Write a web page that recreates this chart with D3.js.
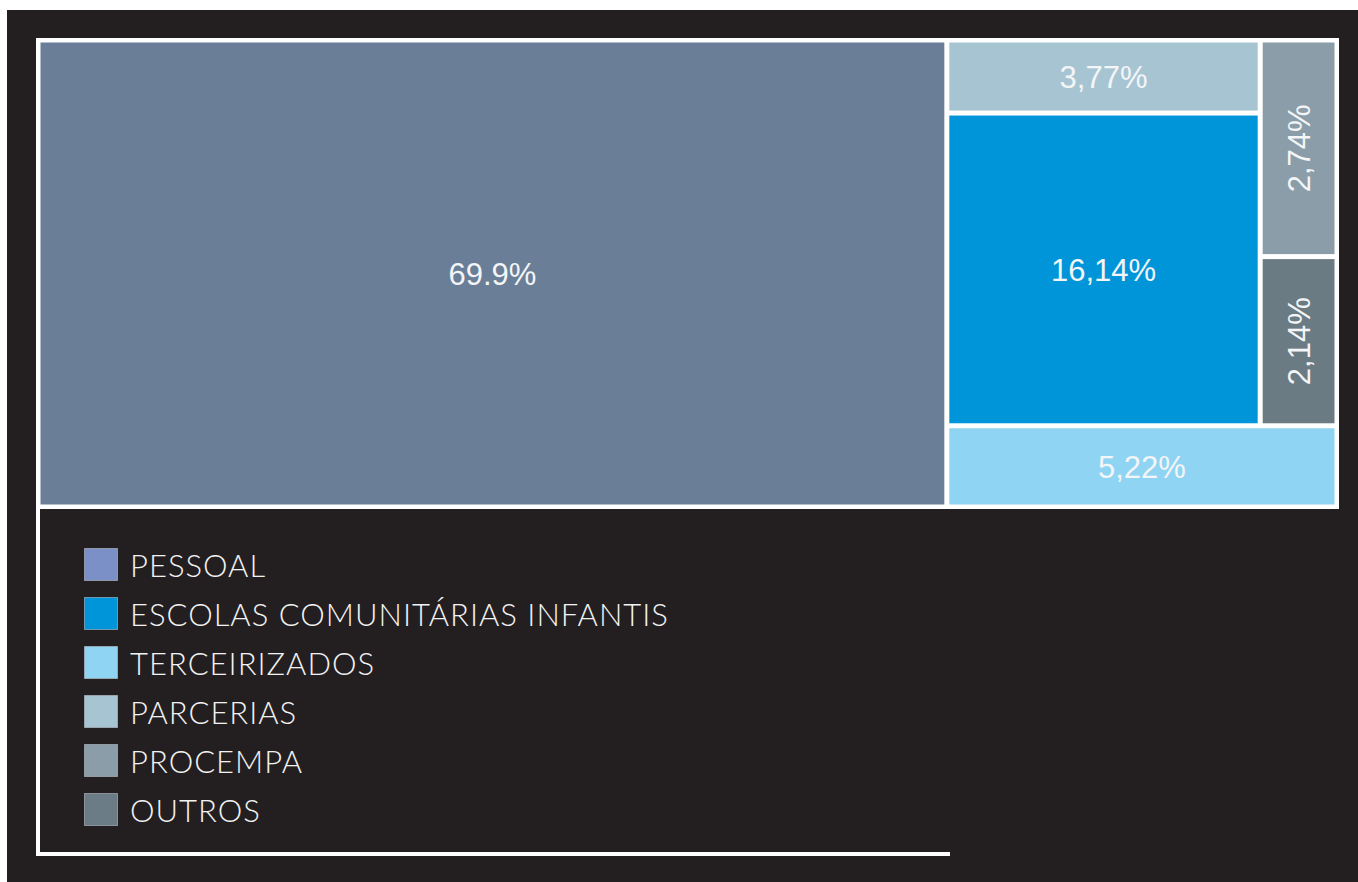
<!DOCTYPE html>
<meta charset="utf-8">
<style>
  body { margin: 0; background: #fff; }
</style>

<!-- Load d3.js -->
<script src="https://d3js.org/d3.v7.min.js"></script>

<div id="my_dataviz"></div>

<script>

// data
var categories = ["PESSOAL", "ESCOLAS COMUNITÁRIAS INFANTIS", "TERCEIRIZADOS", "PARCERIAS", "PROCEMPA", "OUTROS"];
var values = [69.9, 16.14, 5.22, 3.77, 2.74, 2.14];
var valueLabels = ["69.9%", "16,14%", "5,22%", "3,77%", "2,74%", "2,14%"];
var cellColors = ["#6a7e97", "#0095d9", "#8fd4f2", "#a7c4d2", "#8a9da8", "#6b7b84"];
var legendColors = ["#7a90c6", "#0095d9", "#8fd4f2", "#a7c4d2", "#8a9da8", "#6c7c87"];

// how the blocks are nested (indexes into the arrays above)
var nesting = [0, [[[3, 1], [4, 5]], 2]];

var W = 1358, H = 882;

var svg = d3.select("#my_dataviz")
  .append("svg")
    .attr("width", W)
    .attr("height", H);

// dark page
svg.append("rect")
  .attr("x", 7).attr("y", 10)
  .attr("width", W - 7).attr("height", H - 10)
  .attr("fill", "#231f20");

// white frame / treemap background
var frame = {x: 36, y: 38, w: 1303, h: 471};
svg.append("rect")
  .attr("x", frame.x).attr("y", frame.y)
  .attr("width", frame.w).attr("height", frame.h)
  .attr("fill", "#ffffff");
// left edge and bottom edge of the legend box
svg.append("rect")
  .attr("x", frame.x).attr("y", frame.y)
  .attr("width", 4).attr("height", 818)
  .attr("fill", "#ffffff");
svg.append("rect")
  .attr("x", frame.x).attr("y", 852)
  .attr("width", 914).attr("height", 4)
  .attr("fill", "#ffffff");

// build the hierarchy
function toNode(n) {
  if (Array.isArray(n)) return {children: n.map(toNode)};
  return {i: n, name: categories[n], value: values[n]};
}
var root = d3.hierarchy(toNode(nesting))
  .sum(function(d) { return d.children ? 0 : d.value; });

d3.treemap()
  .tile(d3.treemapSliceDice)
  .size([frame.w, frame.h])
  .paddingInner(5)
  .paddingOuter(function(d) { return d.depth === 0 ? 4.5 : 0; })
  (root);

var color = d3.scaleOrdinal().domain(categories).range(cellColors);

var g = svg.append("g")
  .attr("transform", "translate(" + frame.x + "," + frame.y + ")");

var leaves = g.selectAll("g.cell")
  .data(root.leaves())
  .enter()
  .append("g")
    .attr("class", "cell");

leaves.append("rect")
  .attr("x", function(d) { return d.x0; })
  .attr("y", function(d) { return d.y0; })
  .attr("width", function(d) { return d.x1 - d.x0; })
  .attr("height", function(d) { return d.y1 - d.y0; })
  .attr("fill", function(d) { return color(d.data.name); });

leaves.append("text")
  .attr("transform", function(d) {
    var cx = (d.x0 + d.x1) / 2, cy = (d.y0 + d.y1) / 2;
    var rot = (d.x1 - d.x0) < 110 ? " rotate(-90)" : "";
    return "translate(" + cx + "," + cy + ")" + rot;
  })
  .attr("text-anchor", "middle")
  .attr("dy", "0.36em")
  .style("font-family", "'Liberation Sans', Arial, sans-serif")
  .style("font-size", "31px")
  .style("fill", "#f3f5f7")
  .text(function(d) { return valueLabels[d.data.i]; });

// legend
var ly = d3.scaleLinear().domain([0, 1]).range([548, 597]);

var legend = svg.selectAll("g.legend")
  .data(categories)
  .enter()
  .append("g")
    .attr("class", "legend")
    .attr("transform", function(d, i) { return "translate(84," + ly(i) + ")"; });

legend.append("rect")
  .attr("x", 0.5).attr("y", 0.5)
  .attr("width", 33).attr("height", 32)
  .attr("fill", function(d, i) { return legendColors[i]; })
  .attr("stroke", "#d0d8e0")
  .attr("stroke-opacity", 0.5);

legend.append("text")
  .attr("x", 46)
  .attr("y", 29)
  .style("font-family", "Lato, 'Open Sans', sans-serif")
  .style("font-weight", 300)
  .style("font-size", "31px")
  .style("letter-spacing", "1px")
  .style("fill", "#f2f2f2")
  .text(function(d) { return d; });

</script>
